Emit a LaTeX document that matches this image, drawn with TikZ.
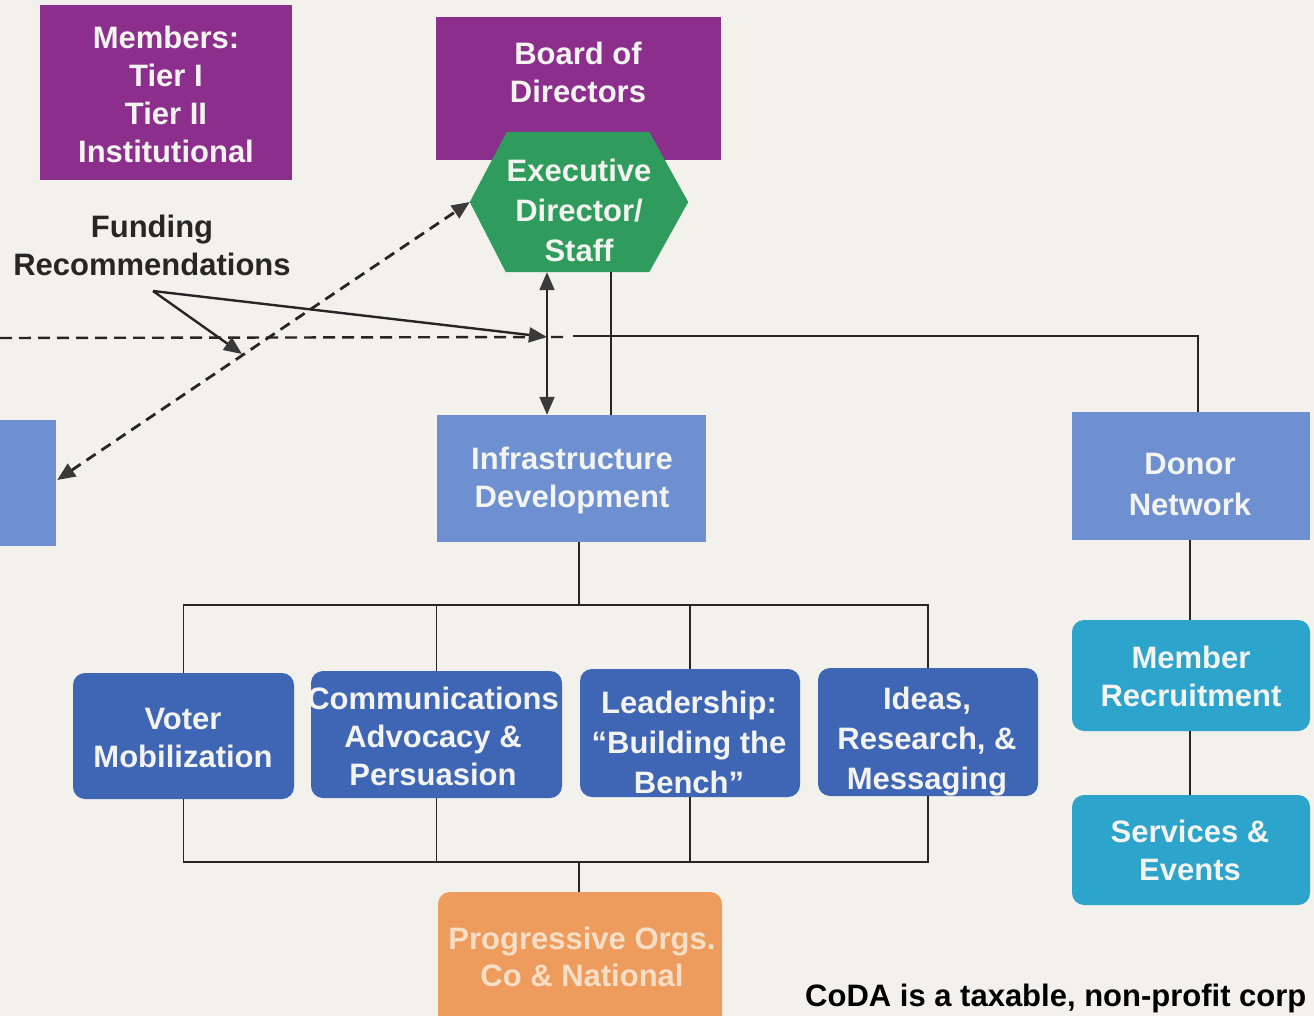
\documentclass[tikz,border=0pt]{standalone}
\usepackage{fontspec}
\setmainfont{Liberation Sans}
\usetikzlibrary{arrows.meta}
\definecolor{bgc}{HTML}{F2F1EB}
\definecolor{cPurp}{HTML}{8C2E8C}
\definecolor{cGrn}{HTML}{2F9C5E}
\definecolor{cLBlue}{HTML}{6E90D0}
\definecolor{cDBlue}{HTML}{3F65B5}
\definecolor{cTeal}{HTML}{2CA4CB}
\definecolor{cOrng}{HTML}{EE9C5E}
\definecolor{cPTxt}{HTML}{F7DEC6}
\definecolor{cWTxt}{HTML}{F3F4F0}
\definecolor{cInk}{HTML}{262626}
\definecolor{cTip}{HTML}{3A3A3A}
\tikzset{
  sq/.style={inner sep=0pt, draw=none},
  rnd/.style={sq, rounded corners=12pt},
  txt/.style={text=cWTxt, font=\bfseries\fontsize{31}{38}\selectfont, align=center, inner sep=0pt},
  conn/.style={draw=cInk, line width=1.9pt},
  tip/.tip={Triangle[length=18pt,width=15pt,color=cTip]},
  arr/.style={cInk, line width=2.4pt, -tip},
  dsh/.style={cInk, line width=2.8pt, dash pattern=on 11pt off 7pt}
}
\begin{document}
\begin{tikzpicture}[x=1pt,y=-1pt]
\useasboundingbox (0,0) rectangle (1314,1016);
\fill[bgc] (0,0) rectangle (1314,1016);
\clip (0,0) rectangle (1314,1016);

% top boxes
\node[sq, fill=cPurp, minimum width=252pt, minimum height=175pt] (mem) at (166,92.5) {};
\node[txt] (memT) at (166,94) {Members:\\Tier I\\Tier II\\Institutional};

\node[sq, fill=cPurp, minimum width=285pt, minimum height=143pt] (board) at (578.5,88.5) {};
\node[txt] (boardT) at (578,72) {Board of\\Directors};

% executive director hexagon
\node[sq, minimum width=218pt, minimum height=140pt] (ed) at (579,202) {};
\fill[cGrn] (ed.west) -- ([xshift=37pt]ed.north west) -- ([xshift=-39pt]ed.north east)
  -- (ed.east) -- ([xshift=-39pt]ed.south east) -- ([xshift=36pt]ed.south west) -- cycle;
\node[txt, font=\bfseries\fontsize{31}{40}\selectfont] (edT) at (579,210) {Executive\\Director/\\Staff};

% funding text
\node[txt, text=cInk] (fund) at (152,245.5) {Funding\\Recommendations};

% middle boxes
\node[sq, fill=cLBlue, minimum width=80pt, minimum height=126pt] (lbox) at (16,483) {};
\node[sq, fill=cLBlue, minimum width=269pt, minimum height=127pt] (infra) at (571.5,478.5) {};
\node[txt] (infraT) at (572,480) {Infrastructure\\Development};
\node[sq, fill=cLBlue, minimum width=238pt, minimum height=128pt] (donor) at (1191,476) {};
\node[txt, font=\bfseries\fontsize{31}{41}\selectfont] (donorT) at (1190,484.5) {Donor\\Network};

% program boxes
\node[rnd, fill=cDBlue, minimum width=221pt, minimum height=126pt] (voter) at (183.5,736) {};
\node[txt] (voterT) at (183,738) {Voter\\Mobilization};
\node[rnd, fill=cDBlue, minimum width=251pt, minimum height=127pt] (comm) at (436.5,734.5) {};
\node[txt] (commT) at (433,736) {Communications\\Advocacy \&\\Persuasion};
\node[rnd, fill=cDBlue, minimum width=220pt, minimum height=128pt] (lead) at (690,733) {};
\node[txt, font=\bfseries\fontsize{31}{40}\selectfont] (leadT) at (689,742.5) {Leadership:\\“Building the\\Bench”};
\node[rnd, fill=cDBlue, minimum width=220pt, minimum height=128pt] (ideas) at (928,732) {};
\node[txt, font=\bfseries\fontsize{31}{40}\selectfont] (ideasT) at (927,742) {Ideas,\\Research, \&\\Messaging};

% right column
\node[rnd, fill=cTeal, minimum width=238pt, minimum height=111pt] (member) at (1191,675.5) {};
\node[txt] (memberT) at (1191,676) {Member\\Recruitment};
\node[rnd, fill=cTeal, minimum width=238pt, minimum height=110pt] (serv) at (1191,850) {};
\node[txt] (servT) at (1190,850) {Services \&\\Events};

% progressive orgs
\node[rnd, fill=cOrng, minimum width=284pt, minimum height=150pt] (prog) at (580,967) {};
\node[txt, text=cPTxt, font=\bfseries\fontsize{31}{37}\selectfont] (progT) at (582,956.5) {Progressive Orgs.\\Co \& National};

% bottom note
\node[txt, text=black, anchor=west] (coda) at (805,998) {CoDA is a taxable, non-profit corp};

% connectors: hierarchy
\draw[conn] (ed.south -| 611,0) -- (infra.north -| 611,0);
\draw[cInk, line width=2pt, tip-tip] (ed.south -| 547,0) -- (infra.north -| 547,0);
\draw[conn] (573,336) -| (donor.north -| 1198,0);
\draw[dsh, line width=2.4pt, dash pattern=on 12pt off 7pt] (0,338) -- (566,337);

\draw[conn] (infra.south -| 579,0) -- (579,605);
\draw[conn] (voter.north) |- (ideas.north |- 0,605) -- (ideas.north);
\draw[conn] (comm.north) -- (comm.north |- 0,605);
\draw[conn] (lead.north) -- (lead.north |- 0,605);

\draw[conn] (voter.south) |- (ideas.south |- 0,862) -- (ideas.south);
\draw[conn] (comm.south) -- (comm.south |- 0,862);
\draw[conn] (lead.south) -- (lead.south |- 0,862);
\draw[conn] (579,862) -- (prog.north -| 579,0);

\draw[conn] (donor.south -| 1190,0) -- (member.north -| 1190,0);
\draw[conn] (member.south -| 1190,0) -- (serv.north -| 1190,0);

% funding recommendation arrows
\coordinate (fr) at (153,291);
\coordinate (fa1) at (242,354);
\coordinate (fa2) at (547,337);
\draw[arr] (fr) -- (fa1);
\draw[arr] (fr) -- (fa2);

% dashed diagonal
\draw[dsh, tip-tip] ([xshift=1pt,yshift=3pt]lbox.east) -- (ed.west);
\end{tikzpicture}
\end{document}
